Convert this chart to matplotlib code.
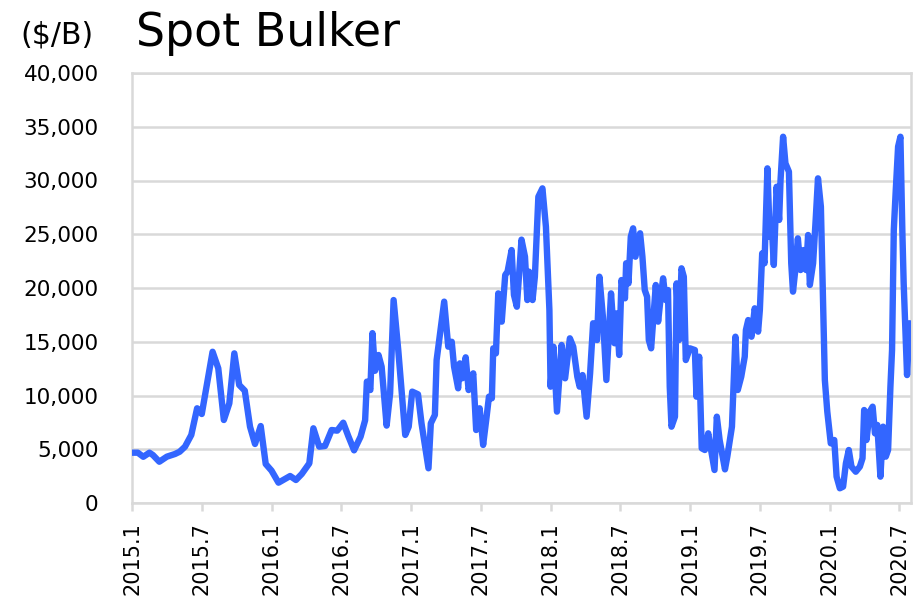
import matplotlib
matplotlib.use("Agg")
import matplotlib.pyplot as plt

# months since Jan 2015
months = [0.0, 0.5, 0.97, 1.5, 1.8, 2.35, 3.0, 3.7, 4.1, 4.56, 5.1, 5.6, 6.0, 6.93, 7.42, 7.9,
          8.37, 8.8, 9.22, 9.7, 10.15, 10.58, 11.07, 11.5, 12.0, 12.6, 13.6, 14.1, 14.6, 15.25,
          15.6, 16.1, 16.6, 17.17, 17.65, 18.17, 18.6, 19.1, 19.66, 20.05, 20.2, 20.5, 20.68,
          20.9, 21.2, 21.47, 21.9, 22.2, 22.5, 22.9, 23.5, 23.8, 24.1, 24.6, 24.9, 25.5, 25.7,
          26.05, 26.2, 26.85, 27.2, 27.5, 27.7, 28.05, 28.2, 28.4, 28.7, 28.95, 29.35, 29.6,
          29.9, 30.2, 30.5, 30.7, 30.95, 31.07, 31.3, 31.5, 31.8, 32.1, 32.3, 32.65, 32.85,
          33.1, 33.5, 33.8, 34.0, 34.15, 34.45, 34.65, 34.95, 35.3, 35.6, 35.9, 36.0, 36.25,
          36.45, 36.55, 36.95, 37.25, 37.66, 37.95, 38.3, 38.5, 38.75, 39.1, 39.4, 39.66, 40.0,
          40.2, 40.5, 40.8, 41.2, 41.5, 41.7, 41.9, 42.1, 42.4, 42.5, 42.7, 42.9, 43.1, 43.3,
          43.7, 43.9, 44.1, 44.3, 44.45, 44.65, 45.05, 45.25, 45.48, 45.68, 45.9, 46.1, 46.25,
          46.4, 46.7, 46.84, 47.05, 47.26, 47.46, 47.63, 47.98, 48.41, 48.55, 48.78, 49.0,
          49.27, 49.56, 49.85, 50.1, 50.3, 50.54, 51.0, 51.2, 51.6, 51.9, 52.1, 52.4, 52.7,
          52.8, 53.0, 53.28, 53.56, 53.85, 54.0, 54.2, 54.4, 54.65, 54.85, 55.0, 55.2, 55.44,
          55.66, 55.78, 56.0, 56.2, 56.5, 56.7, 56.85, 57.05, 57.27, 57.5, 57.76, 57.98, 58.15,
          58.3, 58.58, 58.8, 59.0, 59.25, 59.59, 59.8, 60.1, 60.4, 60.6, 60.88, 61.16, 61.4,
          61.65, 61.88, 62.25, 62.6, 62.83, 62.97, 63.17, 63.45, 63.7, 63.9, 64.1, 64.37, 64.6,
          64.83, 65.03, 65.23, 65.37, 65.52, 65.69, 65.89, 66.09, 66.26, 66.37, 66.66, 66.89]
rates = [4680, 4680, 4300, 4680, 4460, 3840, 4310, 4560, 4770, 5240, 6330, 8810, 8280, 14070,
         12530, 7720, 9270, 13920, 10980, 10450, 7100, 5490, 7160, 3630, 3010, 1890, 2510, 2140,
         2700, 3690, 6950, 5240, 5300, 6790, 6730, 7470, 6230, 4900, 6170, 7700, 11290, 10510,
         15800, 12300, 13770, 12680, 7200, 10200, 18880, 14230, 6330, 7100, 10360, 10110, 7410,
         3230, 7410, 8190, 13300, 18730, 14540, 15000, 12680, 10670, 12990, 11600, 13550, 10510,
         12060, 6790, 8810, 5400, 8030, 9890, 9740, 14390, 13920, 19500, 16870, 21210, 21520,
         23530, 19350, 18260, 24500, 22910, 18880, 21520, 18880, 21050, 28490, 29270, 25700,
         17950, 10820, 14540, 10510, 8500, 14700, 11600, 15320, 14540, 11750, 10820, 11900, 8030,
         12060, 16720, 15160, 21050, 17330, 11440, 19500, 14860, 17640, 13770, 20740, 19040,
         22300, 20430, 24770, 25550, 22910, 25090, 22910, 19810, 19190, 15160, 14390, 20280,
         16870, 19190, 20900, 18880, 19810, 10820, 7100, 8030, 20430, 15160, 21830, 21050, 13300,
         14390, 14230, 9890, 13610, 5090, 4930, 6480, 4620, 3070, 8030, 5860, 3130, 4310, 7100,
         15470, 10510, 11750, 13610, 16090, 17020, 15470, 18110, 15940, 17950, 23220, 22300,
         31130, 24770, 26330, 22140, 29420, 26330, 30050, 34070, 31600, 30820, 22300, 19660,
         21670, 24620, 21670, 23530, 21670, 24930, 20280, 22300, 26330, 30200, 27560, 11440,
         8500, 5550, 5860, 2450, 1370, 1520, 3690, 4930, 3380, 2910, 3380, 4160, 8650, 5860,
         8500, 8960, 6480, 7260, 2450, 7100, 4310, 4930, 10820, 14230, 25400, 29120, 33150,
         34070, 25090, 20430, 11900, 16720]

tick_months = [0, 6, 12, 18, 24, 30, 36, 42, 48, 54, 60, 66]
tick_labels = ["2015.1", "2015.7", "2016.1", "2016.7", "2017.1", "2017.7", "2018.1",
               "2018.7", "2019.1", "2019.7", "2020.1", "2020.7"]
y_ticks = [0, 5000, 10000, 15000, 20000, 25000, 30000, 35000, 40000]

plt.rcParams['font.family'] = ['DejaVu Sans']

fig = plt.figure(figsize=(9.14, 6.03), dpi=100)
ax = fig.add_axes([132 / 914, 1 - 503 / 603, (911 - 132) / 914, (503 - 73) / 603])

grid_c = "#d9d9d9"
ax.plot(months, rates, color="#3366ff", linewidth=4.6, solid_joinstyle="round",
        solid_capstyle="round", zorder=3)

ax.set_xlim(0, 67)
ax.set_ylim(0, 40000)
ax.set_yticks(y_ticks)
ax.set_yticklabels([f"{v:,}" for v in y_ticks], fontsize=15.5)
ax.set_xticks(tick_months)
ax.set_xticklabels(tick_labels, rotation=90, fontsize=15)

ax.yaxis.grid(True, color=grid_c, linewidth=1.8)
ax.set_axisbelow(True)
for s in ax.spines.values():
    s.set_color(grid_c)
    s.set_linewidth(1.8)
ax.tick_params(axis="y", length=0, pad=24)
ax.tick_params(axis="x", length=6, width=1.8, color=grid_c, pad=8)

fig.text(20 / 914, 1 - 43 / 603, "($/B)", fontsize=21.5, ha="left", va="baseline")
fig.text(136 / 914, 1 - 46 / 603, "Spot Bulker", fontsize=33, ha="left", va="baseline")

fig.savefig("out.png", dpi=100)
